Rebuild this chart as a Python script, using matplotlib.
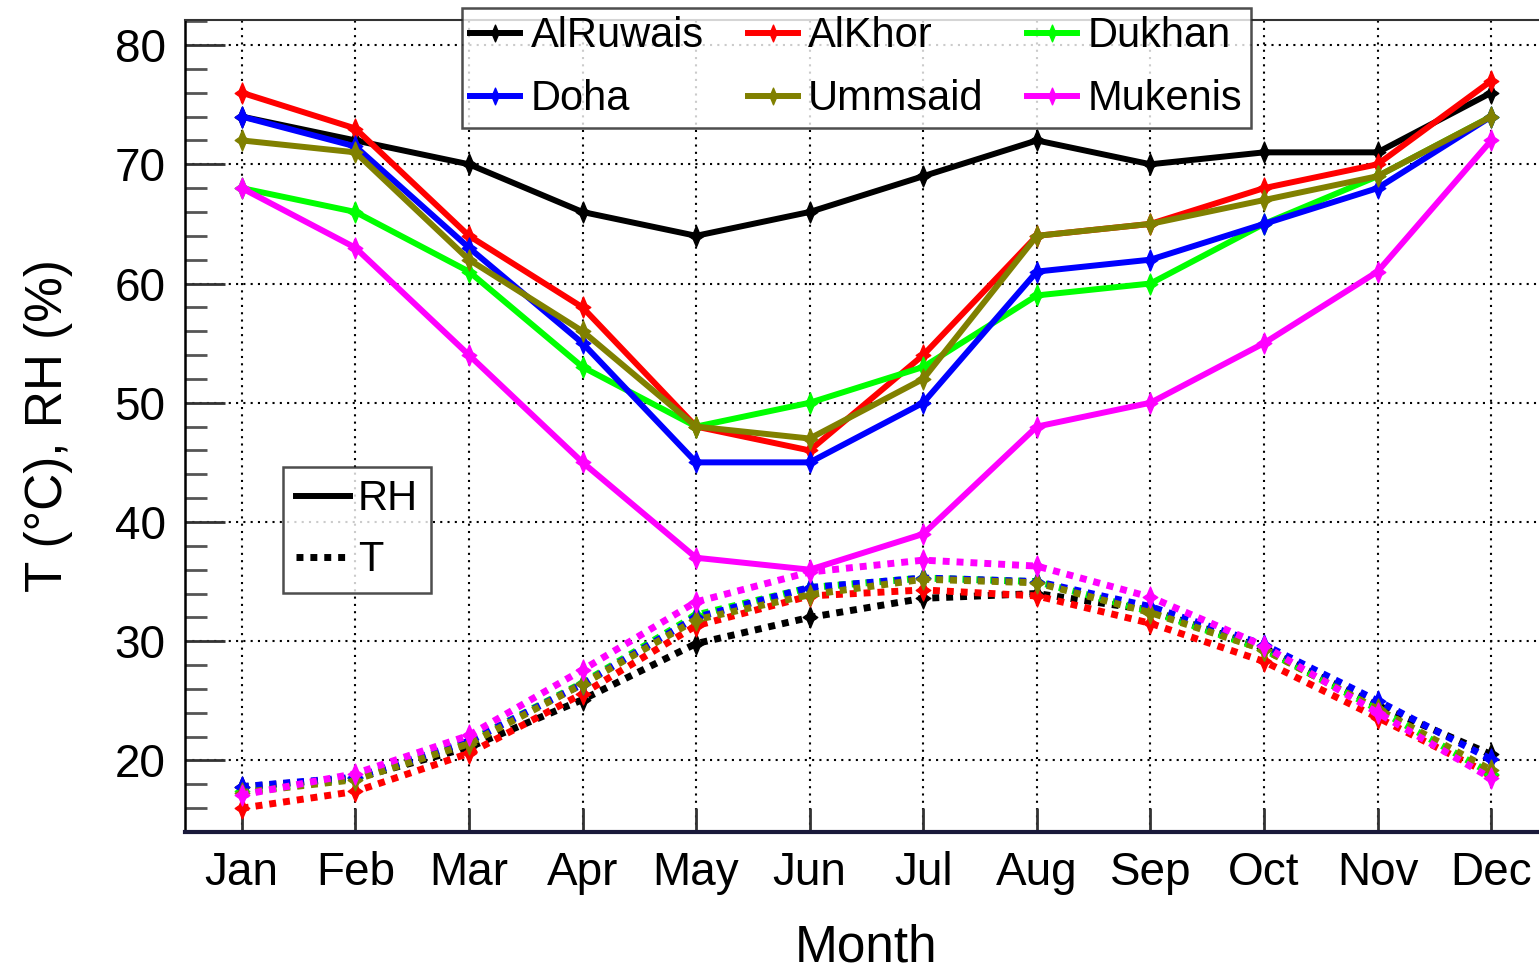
import matplotlib
matplotlib.use("Agg")
import matplotlib.pyplot as plt
from matplotlib.path import Path
from matplotlib.lines import Line2D
from matplotlib.ticker import MultipleLocator

plt.rcParams['font.family'] = ['Liberation Sans', 'DejaVu Sans']

months = ['Jan', 'Feb', 'Mar', 'Apr', 'May', 'Jun', 'Jul', 'Aug', 'Sep', 'Oct', 'Nov', 'Dec']
stations = ['AlRuwais', 'AlKhor', 'Dukhan', 'Doha', 'Ummsaid', 'Mukenis']
colors = ['#000000', '#ff0000', '#00ff00', '#0000ff', '#808000', '#ff00ff']

rh_alruwais = [74, 72, 70, 66, 64, 66, 69, 72, 70, 71, 71, 76]
rh_alkhor   = [76, 73, 64, 58, 48, 46, 54, 64, 65, 68, 70, 77]
rh_dukhan   = [68, 66, 61, 53, 48, 50, 53, 59, 60, 65, 69, 74]
rh_doha     = [74, 71.5, 63, 55, 45, 45, 50, 61, 62, 65, 68, 74]
rh_ummsaid  = [72, 71, 62, 56, 48, 47, 52, 64, 65, 67, 69, 74]
rh_mukenis  = [68, 63, 54, 45, 37, 36, 39, 48, 50, 55, 61, 72]

t_alruwais = [17.8, 18.5, 21.1, 25.1, 29.8, 32.0, 33.6, 34.0, 32.6, 29.4, 24.6, 20.5]
t_alkhor   = [16.0, 17.4, 20.6, 25.6, 31.3, 33.8, 34.3, 33.8, 31.5, 28.3, 23.6, 18.8]
t_dukhan   = [17.4, 18.5, 21.6, 26.5, 32.2, 34.5, 35.3, 35.0, 32.5, 29.3, 24.3, 18.9]
t_doha     = [17.8, 18.6, 21.6, 26.4, 32.0, 34.5, 35.3, 35.0, 32.9, 29.7, 25.0, 20.1]
t_ummsaid  = [17.3, 18.4, 21.4, 26.4, 31.8, 33.9, 35.2, 34.9, 32.4, 29.3, 24.3, 19.2]
t_mukenis  = [17.1, 18.9, 22.1, 27.6, 33.3, 35.8, 36.8, 36.3, 33.7, 29.6, 24.0, 18.5]

rh_all = [rh_alruwais, rh_alkhor, rh_dukhan, rh_doha, rh_ummsaid, rh_mukenis]
t_all = [t_alruwais, t_alkhor, t_dukhan, t_doha, t_ummsaid, t_mukenis]

star = Path([(0, 1), (0.3, 0.28), (0.7, 0), (0.3, -0.28), (0, -1),
             (-0.3, -0.28), (-0.7, 0), (-0.3, 0.28), (0, 1)],
            [Path.MOVETO] + [Path.LINETO] * 7 + [Path.CLOSEPOLY])

fig = plt.figure(figsize=(15.39, 9.74), dpi=100)
W, H = 1539, 974
left, right, top, bottom = 185, 1548, 20, 832
ax = fig.add_axes([left / W, 1 - bottom / H, (right - left) / W, (bottom - top) / H])

x = list(range(1, 13))
handles = []
for name, c, rh, t in zip(stations, colors, rh_all, t_all):
    ax.plot(x, t, color=c, lw=5, ls=(0, (1, 1.0)), marker=star, ms=15, mec=c, mfc=c, mew=1, zorder=3)
for name, c, rh, t in zip(stations, colors, rh_all, t_all):
    h, = ax.plot(x, rh, color=c, lw=4.3, ls='-', marker=star, ms=15, mec=c, mfc=c, mew=1, zorder=4, label=name)
    handles.append(h)

ax.set_xlim(0.5, 12.5)
ax.set_ylim(14, 82.1)
ax.set_xticks(x)
ax.set_xticklabels(months)
ax.yaxis.set_major_locator(MultipleLocator(10))
ax.yaxis.set_minor_locator(MultipleLocator(2))
ax.set_yticks([20, 30, 40, 50, 60, 70, 80])
ax.tick_params(axis='both', which='major', direction='in', labelsize=33, width=2, color='#333333')
ax.tick_params(axis='y', which='major', length=29, pad=14)
ax.tick_params(axis='y', which='minor', direction='in', length=16, width=2, color='#555555')
ax.tick_params(axis='x', which='major', length=17, pad=14)
ax.tick_params(top=False, right=False)
ax.grid(True, which='major', color='black', ls=(0, (1, 2.5)), lw=1.5)

ax.spines['bottom'].set_linewidth(3)
ax.spines['bottom'].set_color('#1a1a3a')
ax.spines['left'].set_linewidth(1.8)
ax.spines['top'].set_linewidth(1.5)
ax.spines['top'].set_color('#333333')

ax.set_xlabel('Month', fontsize=37, labelpad=20)
ax.set_ylabel('T (°C), RH (%)', fontsize=37, labelpad=30)

order = [0, 3, 1, 4, 2, 5]
leg = ax.legend([handles[i] for i in order], [stations[i] for i in order], ncol=3,
                loc='upper left', bbox_to_anchor=((462 - left) / (right - left), 1 + 12 / (bottom - top)),
                fontsize=30, frameon=True, fancybox=False, edgecolor='#222222',
                handlelength=1.2, handletextpad=0.25, columnspacing=1.05, borderpad=0.2,
                labelspacing=0.55, borderaxespad=0)
leg.get_frame().set_linewidth(1.8)
for lh in leg.get_lines():
    lh.set_markersize(12)

style_h = [Line2D([], [], color='black', lw=4.3, ls='-'),
           Line2D([], [], color='black', lw=5, ls=(0, (1, 1.0)))]
leg2 = ax.legend(style_h, ['RH', 'T'], loc='upper left',
                 bbox_to_anchor=((283 - left) / (right - left), 1 - (467 - top) / (bottom - top)),
                 fontsize=30, frameon=True, fancybox=False, edgecolor='#222222',
                 handlelength=1.3, handletextpad=0.2, borderpad=0.3, labelspacing=0.5,
                 borderaxespad=0)
leg2.get_frame().set_linewidth(1.8)
ax.add_artist(leg)

fig.savefig('out.png', dpi=100)
